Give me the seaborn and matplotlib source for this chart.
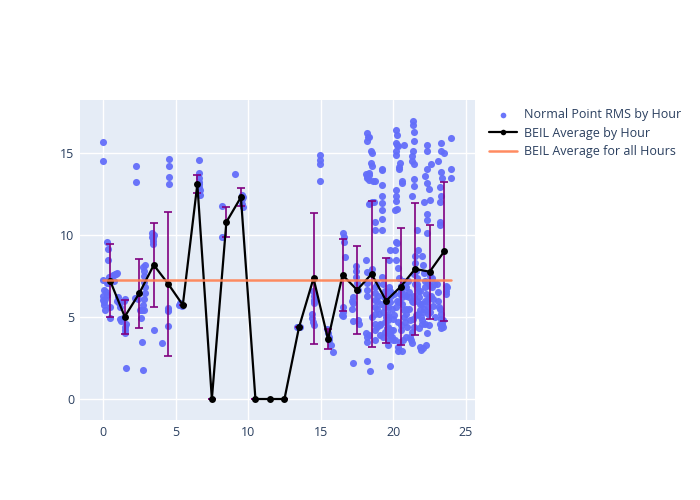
import numpy as np
import pandas as pd
import matplotlib
matplotlib.use("Agg")
import matplotlib.pyplot as plt
import seaborn as sns

# ---------------- data ----------------
# Normal point RMS samples (hour of day, value), grouped by time block
early_x = [0.0, 0.0, 0.02, 0.05, 0.0, 0.1, 0.0, 0.05, 0.15, 0.3, 0.35, 0.35, 0.35, 0.5, 0.5, 0.25, 0.25,
           0.6, 0.7, 0.8, 0.9, 0.95, 0.75, 0.2, 0.15, 0.45,
           1.1, 1.15, 1.2, 1.25, 1.3, 1.35, 1.5, 1.55, 1.55, 1.6, 1.45, 1.5, 1.56, 1.0, 1.05,
           2.25, 2.27, 2.2, 2.4, 2.55, 2.7, 2.8, 2.78, 2.8, 2.85, 2.85, 2.9, 2.9, 2.85, 2.75, 2.6, 2.7, 2.9, 2.78]
early_y = [15.65, 14.5, 7.25, 6.65, 6.05, 5.75, 6.3, 5.9, 5.4, 9.6, 9.15, 8.45, 7.1, 5.6, 4.95, 6.35, 7.05,
           7.5, 7.55, 7.6, 7.6, 7.7, 7.2, 6.5, 6.1, 7.45,
           5.85, 5.6, 4.85, 4.75, 4.85, 4.95, 4.2, 4.0, 4.4, 4.6, 6.0, 6.1, 1.9, 6.0, 6.2,
           14.2, 13.25, 6.15, 6.1, 5.45, 5.45, 5.45, 8.05, 7.8, 7.5, 7.15, 6.8, 6.45, 6.1, 5.75, 4.95, 3.45, 8.2, 1.75]

morning_x = [3.4, 3.4, 3.42, 3.45, 3.45, 3.5, 4.1, 3.5,
             4.55, 4.55, 4.55, 4.55, 4.5, 4.5, 4.45, 4.5,
             5.25, 5.3, 5.42,
             6.6, 6.62, 6.6, 6.62, 6.63, 6.65, 6.65, 6.6,
             8.2, 8.2, 9.1, 9.55, 9.6, 9.6, 9.62, 9.65]
morning_y = [10.1, 9.9, 9.65, 9.45, 9.8, 4.2, 3.4, 10.0,
             14.65, 14.2, 13.55, 13.1, 5.55, 5.35, 4.45, 5.45,
             5.75, 5.85, 5.7,
             14.6, 13.75, 13.45, 13.25, 12.95, 12.75, 12.45, 13.1,
             11.75, 9.9, 13.7, 12.45, 12.2, 11.9, 11.7, 12.3]

afternoon_x = [13.35, 13.45, 13.55,
               14.95, 14.97, 14.97, 14.95, 14.45, 14.5, 14.5, 14.5, 14.55, 14.4, 14.4, 14.45, 14.5,
               15.45, 15.5, 15.55, 15.6, 15.7, 15.85,
               16.55, 16.6, 16.62, 16.65, 16.5, 16.5, 16.55, 16.45,
               17.2, 17.2, 17.15, 17.2, 17.22, 17.4, 17.4, 17.45, 17.5, 17.55, 17.55, 17.6, 17.15]
afternoon_y = [4.42, 4.4, 4.38,
               14.85, 14.55, 14.35, 13.3, 6.6, 6.3, 6.05, 5.85, 5.95, 5.2, 4.95, 4.7, 4.5,
               4.25, 4.05, 3.8, 3.6, 3.3, 2.85,
               10.1, 9.85, 9.6, 8.65, 5.3, 5.05, 5.6, 5.15,
               6.2, 5.85, 5.5, 4.75, 2.2, 8.1, 7.8, 7.45, 7.1, 6.65, 4.8, 4.6, 6.0]

evening_x = [18.2, 18.25, 18.2, 18.3, 18.1, 18.15, 18.2, 18.3, 18.35, 18.45, 18.5, 18.45, 18.55, 18.6, 18.5,
             18.4, 18.35, 18.7, 18.75, 18.7, 18.65, 18.3,
             18.1, 18.15, 18.2, 18.15, 18.2, 18.1, 18.15, 18.2, 18.15, 18.4, 18.55, 18.7, 18.7, 18.72, 18.75,
             18.7, 18.75, 18.7, 18.72, 18.9, 18.95, 18.9, 18.85, 18.5, 18.35,
             19.2, 19.2, 19.2, 19.2, 19.2, 19.25, 19.2, 19.2,
             19.2, 19.3, 19.4, 19.5, 19.55, 19.6, 19.6, 19.6, 19.6, 19.6, 19.65, 19.6, 19.7, 19.75, 19.8, 19.9,
             19.95, 19.85, 19.3, 19.4, 19.45, 19.7, 19.8, 19.9, 19.76, 19.5, 19.35, 19.1]
evening_y = [16.2, 16.0, 15.7, 15.95, 13.7, 13.5, 13.6, 13.8, 13.35, 15.1, 15.0, 14.4, 14.2, 13.3, 12.0,
             11.95, 11.9, 10.8, 10.3, 13.3, 12.0, 13.65,
             8.45, 7.75, 7.05, 6.65, 6.3, 4.0, 3.75, 3.5, 2.3, 1.7, 7.95, 6.85, 6.45, 6.05, 5.6,
             5.2, 4.6, 4.2, 3.6, 7.0, 6.3, 5.5, 4.4, 5.0, 3.9,
             13.95, 13.05, 12.35, 11.95, 11.5, 11.0, 10.3, 14.0,
             7.45, 7.0, 6.6, 6.3, 6.0, 5.6, 5.2, 4.8, 4.4, 4.0, 3.6, 3.3, 8.5, 9.1, 5.9, 5.5,
             4.9, 4.2, 5.3, 4.7, 4.1, 6.8, 6.6, 3.8, 2.0, 5.0, 6.2, 4.5]

night_x = [20.2, 20.22, 20.2, 20.25, 20.3, 20.15, 20.15, 20.4, 20.45, 20.4, 20.6, 20.2, 20.15, 20.2, 20.25,
           20.6, 20.7, 20.1,
           20.2, 20.25, 20.1, 20.2, 20.3, 20.4, 20.5, 20.55, 20.6, 20.6, 20.7, 20.75, 20.8, 20.9, 20.9, 20.9,
           20.95, 20.85, 20.3, 20.35, 20.45, 20.5, 20.57, 20.65, 20.05, 20.15, 20.0, 20.4,
           21.35, 21.38, 21.4, 21.4, 21.35, 21.3, 21.3, 21.4, 21.45, 21.45, 21.3, 21.6, 21.7, 21.5,
           21.0, 21.1, 21.15, 21.2, 21.3, 21.35, 21.5, 21.55, 21.6, 21.65, 21.7, 21.75, 21.8, 21.85, 21.9,
           21.95, 21.6, 21.65, 21.7, 21.45, 21.4, 21.5, 21.8, 21.9, 21.95, 21.05, 21.25]
night_y = [16.4, 16.1, 15.6, 15.5, 15.4, 15.1, 14.9, 14.15, 14.4, 14.0, 13.2, 12.75, 12.4, 12.1, 11.6,
           13.3, 15.5, 11.55,
           9.6, 9.5, 9.1, 8.5, 8.0, 7.4, 6.9, 6.6, 6.2, 5.8, 5.4, 5.0, 4.7, 6.85, 6.3, 5.5,
           4.4, 3.8, 3.2, 2.9, 3.5, 4.2, 2.9, 7.2, 6.4, 5.6, 4.2, 5.9,
           16.95, 16.7, 16.3, 15.7, 15.1, 14.8, 14.5, 14.3, 13.4, 13.0, 12.4, 10.3, 9.1, 8.7,
           7.2, 6.5, 3.8, 3.6, 3.4, 5.9, 8.3, 7.8, 7.4, 7.0, 6.6, 6.2, 5.8, 5.4, 5.0,
           4.6, 6.8, 6.0, 5.2, 4.4, 7.6, 7.0, 3.2, 3.0, 4.8, 5.5, 4.1]

late_x = [22.3, 22.3, 22.6, 22.3, 22.3, 22.45, 22.55, 22.3, 22.3, 22.3, 22.1, 22.2,
          22.0, 22.05, 22.1, 22.15, 22.2, 22.25, 22.3, 22.35, 22.4, 22.5, 22.55, 22.6, 22.7, 22.3, 22.2,
          22.1, 22.45, 22.65, 22.8, 22.05, 22.25,
          23.3, 23.3, 23.5, 24.0, 24.0, 24.0, 23.25, 23.2, 23.2, 23.2, 23.2, 23.25, 23.35, 23.1,
          23.2, 23.25, 23.3, 23.35, 23.3, 23.2, 23.6, 23.62, 23.65, 23.0, 23.05, 23.1, 23.15, 23.7]
late_y = [15.5, 15.1, 14.3, 14.0, 13.15, 12.8, 12.15, 11.3, 10.9, 10.1, 12.0, 13.6,
          8.7, 8.2, 7.7, 7.2, 6.8, 6.4, 6.0, 5.6, 5.2, 7.5, 6.9, 6.3, 5.7, 4.0, 4.6,
          5.5, 4.5, 6.8, 7.0, 3.1, 3.3,
          15.6, 15.1, 15.0, 15.9, 14.05, 13.45, 13.85, 12.95, 12.0, 10.8, 10.6, 12.4, 13.5, 14.5,
          5.5, 5.2, 4.9, 4.6, 4.3, 4.6, 6.9, 6.6, 6.4, 7.0, 6.5, 6.0, 5.6, 6.8]

# extra samples filling the dense evening/night band
dense_x = [18.9, 19.0, 19.05, 19.1, 19.15, 19.3, 19.45, 19.55, 19.65, 19.75, 19.85, 19.95,
           20.05, 20.1, 20.25, 20.35, 20.45, 20.55, 20.65, 20.75, 20.85,
           21.05, 21.15, 21.25, 21.35, 21.45, 21.55, 21.75, 21.85, 21.95,
           22.05, 22.15, 22.35, 22.45, 22.55, 22.65, 22.75, 22.85, 23.4, 23.45]
dense_y = [6.0, 5.2, 4.6, 3.9, 5.8, 3.8, 5.6, 4.3, 5.0, 3.9, 6.3, 3.6,
           5.1, 3.6, 6.0, 4.7, 6.4, 4.5, 3.6, 6.4, 5.2,
           6.2, 4.8, 6.0, 4.9, 6.3, 5.1, 4.3, 6.6, 5.8,
           5.3, 6.0, 7.1, 6.2, 5.3, 7.4, 6.1, 5.0, 4.8, 4.4]

# hourly averages and their spread
avg_hour = [0.5, 1.5, 2.5, 3.5, 4.5, 5.5, 6.5, 7.5, 8.5, 9.5, 10.5, 11.5,
            12.5, 13.5, 14.5, 15.5, 16.5, 17.5, 18.5, 19.5, 20.5, 21.5, 22.5, 23.5]
avg_value = [7.2, 5.02, 6.44, 8.17, 7.01, 5.73, 13.09, 0.0, 10.79, 12.30, 0.0, 0.0,
             0.0, 4.37, 7.36, 3.64, 7.56, 6.65, 7.62, 5.99, 6.85, 7.93, 7.76, 9.00]
avg_err = [2.23, 1.04, 2.1, 2.54, 4.39, 0.0, 0.55, 0.0, 0.92, 0.54, 0.0, 0.0,
           0.0, 0.0, 4.0, 0.61, 2.22, 2.66, 4.47, 2.6, 3.55, 4.05, 2.86, 4.25]

overall_x = [0, 24]
overall_avg = 7.25

x_ticks = [0, 5, 10, 15, 20, 25]
y_ticks = [0, 5, 10, 15]

# ---------------- plotting ----------------
sns.set_theme(style="darkgrid", rc={
    "axes.facecolor": "#E5ECF6",
    "grid.color": "white",
    "grid.linewidth": 1.0,
    "axes.edgecolor": "#E5ECF6",
})
plt.rcParams["font.family"] = ["Open Sans", "DejaVu Sans"]

pts = pd.DataFrame({
    "hour": early_x + morning_x + afternoon_x + evening_x + night_x + late_x + dense_x,
    "rms": early_y + morning_y + afternoon_y + evening_y + night_y + late_y + dense_y,
})
avg = pd.DataFrame({"hour": avg_hour, "value": avg_value, "err": avg_err})

fig = plt.figure(figsize=(7, 5), dpi=100)
ax = fig.add_axes([80 / 700, 1 - 420 / 500, 395 / 700, 320 / 500])

sns.scatterplot(data=pts, x="hour", y="rms", ax=ax, color="#636EFA", s=26,
                linewidth=0, alpha=0.95, label="Normal Point RMS by Hour", zorder=2)
ax.errorbar(avg["hour"], avg["value"], yerr=avg["err"], fmt="none", ecolor="purple",
            elinewidth=1.2, capsize=3, capthick=1.2, zorder=3)
sns.lineplot(data=avg, x="hour", y="value", ax=ax, color="black", marker="o",
             markersize=5, markeredgewidth=0, linewidth=1.6, sort=False,
             label="BEIL Average by Hour", zorder=4)
sns.lineplot(x=overall_x, y=[overall_avg, overall_avg], ax=ax, color="#FF7F50",
             linewidth=1.8, alpha=0.9, label="BEIL Average for all Hours", zorder=5)

ax.set_xlim(-1.58, 25.62)
ax.set_ylim(-1.28, 18.23)
ax.set_xticks(x_ticks)
ax.set_yticks(y_ticks)
ax.set_xlabel("")
ax.set_ylabel("")
ax.tick_params(axis="both", length=0, labelsize=9, labelcolor="#2a3f5f", pad=4)
for s in ax.spines.values():
    s.set_visible(False)

handles, labels = ax.get_legend_handles_labels()
ax.get_legend().remove()
fig.legend(handles, labels, loc="upper left", bbox_to_anchor=(489 / 700, 1 - 108 / 500),
           frameon=False, fontsize=9, handlelength=2.2, handletextpad=0.6,
           labelspacing=0.45, labelcolor="#2a3f5f", borderaxespad=0, borderpad=0,
           markerscale=0.8)

fig.savefig("out.png", dpi=100)
